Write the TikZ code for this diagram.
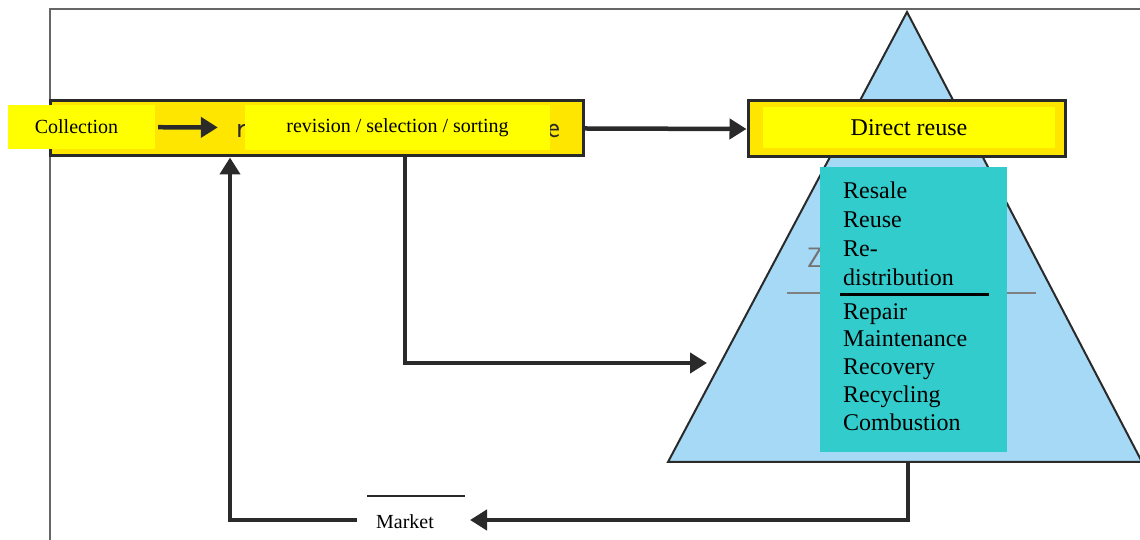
\documentclass[tikz,border=0pt]{standalone}
\usepackage{fontspec}
\setmainfont{Liberation Serif}
\usetikzlibrary{arrows.meta}

\definecolor{boxyellow}{HTML}{FFE600}
\definecolor{patchyellow}{HTML}{FFFF00}
\definecolor{pyramidblue}{HTML}{A6D9F5}
\definecolor{listcyan}{HTML}{33CCCC}
\definecolor{ink}{HTML}{2A2A2A}

\tikzset{
  flow/.style = {ink, line width = 4.5pt, line join = miter, -{Triangle[length = 17pt, width = 20pt]}},
  yellowbox/.style = {draw = ink, line width = 3pt, fill = boxyellow},
  patch/.style = {fill = patchyellow, inner sep = 0pt},
  listitem/.style = {anchor = base west, inner sep = 0pt, font = \fontsize{24}{28}\selectfont},
  fragment/.style = {text = ink, inner sep = 0pt, font = \sffamily\fontsize{30}{34}\selectfont}
}

\begin{document}
\begin{tikzpicture}[x = 1pt, y = 1pt]
\useasboundingbox (0, 0) rectangle (1140, 540);
\clip (0, 0) rectangle (1140, 540);
\fill[white] (0, 0) rectangle (1140, 540);
\draw[gray!80!black, line width = 2pt] (50, 0) -- (50, 531) -- (1145, 531);

\draw[fill = pyramidblue, draw = ink, line width = 2pt] (907, 528) -- (1142, 78) -- (668, 78) -- cycle;
\node[text = gray!90!black, font = \sffamily\fontsize{28}{32}\selectfont] (zone) at (815, 282) {Z};
\draw[gray, line width = 1.2pt] (787, 247) -- (1036, 247);

\node[fill = listcyan, minimum width = 187, minimum height = 285, inner sep = 0pt] (list) at (913.5, 230.5) {};
\node[listitem] (resale) at (843, 341) {Resale};
\node[listitem] (reuse) at (843, 312) {Reuse};
\node[listitem] (re) at (843, 283) {Re-};
\node[listitem] (distribution) at (843, 254) {distribution};
\draw[black, line width = 3pt] (840, 245) -- (989, 245);
\node[listitem] (repair) at (843, 220) {Repair};
\node[listitem] (maintenance) at (843, 193) {Maintenance};
\node[listitem] (recovery) at (843, 165) {Recovery};
\node[listitem] (recycling) at (843, 137) {Recycling};
\node[listitem] (combustion) at (843, 109) {Combustion};

\node[yellowbox, minimum width = 533, minimum height = 55, inner sep = 0pt] (sorting) at (316.5, 411.5) {};
\node[fragment, anchor = west] (lead) at (236, 409) {r};
\node[fragment, anchor = east] (tail) at (560, 409) {e};
\node[patch, minimum width = 147, minimum height = 44, font = \fontsize{20}{24}\selectfont] (collection) at (81.5, 413) {\hspace{-10pt}Collection};
\node[patch, minimum width = 305, minimum height = 45, font = \fontsize{20}{24}\selectfont] (revision) at (397.5, 412) {revision / selection / sorting};

\node[yellowbox, minimum width = 317, minimum height = 56, inner sep = 0pt] (direct) at (906.5, 411) {};
\node[patch, minimum width = 292, minimum height = 41, font = \fontsize{24}{28}\selectfont] (directtext) at (909, 412) {Direct reuse};

\node[minimum width = 96, minimum height = 30, inner sep = 0pt, font = \fontsize{20}{24}\selectfont] (market) at (405, 18) {Market};
\draw[ink, line width = 2.5pt] (367, 44) -- (465, 44);

\coordinate (turn) at (405, 177);
\coordinate (target) at (707, 177);
\coordinate (base) at (908, 78);
\coordinate (back) at (230, 20);
\coordinate (arrive) at (470, 20);

\draw[flow, shorten < = 3pt, shorten > = 27pt] (collection) -- (revision);
\draw[flow] (sorting.east) -- (direct.west);
\draw[flow] (sorting.south -| turn) -- (turn) -- (target);
\draw[flow] (base) |- (arrive);
\draw[flow] (market.west |- back) -- (back) -- (back |- sorting.south);
\end{tikzpicture}
\end{document}
